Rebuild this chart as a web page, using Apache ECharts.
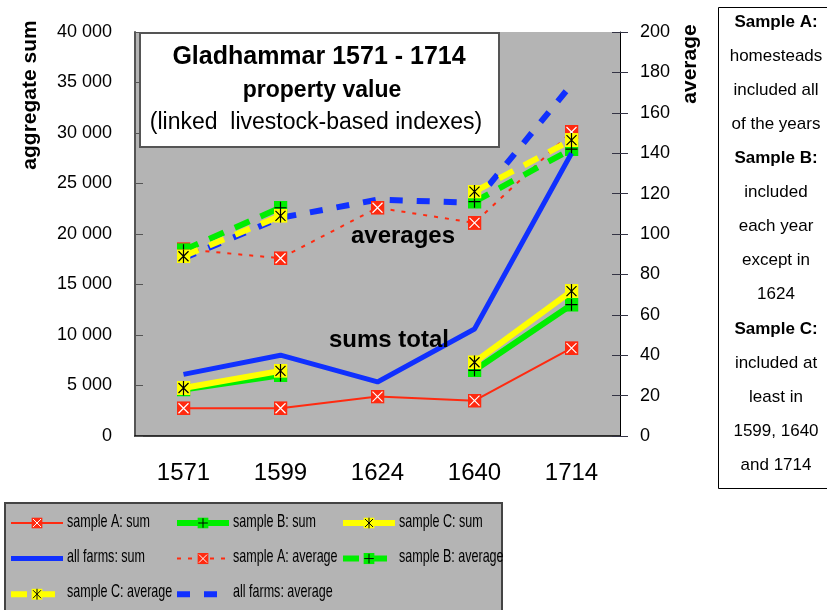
<!DOCTYPE html>
<html>
<head>
<meta charset="utf-8">
<script src="https://cdn.jsdelivr.net/npm/echarts@6/dist/echarts.min.js"></script>
<style>
  html, body { margin: 0; padding: 0; background: #fff; }
  #chart { width: 827px; height: 610px; }
</style>
</head>
<body>
<div id="chart"></div>
<script>
// data
var years = ["1571", "1599", "1624", "1640", "1714"];
var sumA = [2750, 2750, 3900, 3500, 8700];
var sumB = [4600, 6000, null, 6500, 13000];
var sumC = [4750, 6450, null, 7300, 14350];
var sumAll = [6100, 8000, 5350, 10600, 28000];
var avgA = [92.5, 88, 113, 105.5, 150.5];
var avgB = [92, 113, null, 116, 142];
var avgC = [89, 109, null, 121, 146.5];
var avgAll = [88, 108, 117, 115.5, 174];
var sideNotes = [
  ["Sample A:", true], ["homesteads", false], ["included all", false], ["of the years", false],
  ["Sample B:", true], ["included", false], ["each year", false], ["except in", false], ["1624", false],
  ["Sample C:", true], ["included at", false], ["least in", false], ["1599, 1640", false], ["and 1714", false]
];
// legend columns (read top to bottom)
var legendCols = [
  ["sample A: sum", "all farms: sum", "sample C: average"],
  ["sample B: sum", "sample A: average", "all farms: average"],
  ["sample C: sum", "sample B: average"]
];

var RED = "#ff2a10", GREEN = "#00ee00", YELLOW = "#ffff00", BLUE = "#1030ff";
var FONT = "'Liberation Sans', Arial, sans-serif";

function svgIcon(fill, stroke, path) {
  var s = "<svg xmlns='http://www.w3.org/2000/svg' width='14' height='14'>" +
    "<rect width='14' height='14' fill='" + fill + "'/>" +
    "<path d='" + path + "' stroke='" + stroke + "' stroke-width='1.2' fill='none'/></svg>";
  return "image://data:image/svg+xml;charset=utf-8," + encodeURIComponent(s);
}
var markA = svgIcon(RED, "#ffffff", "M2 2L12 12M12 2L2 12");
var markB = svgIcon(GREEN, "#000000", "M7 1V13M1 7H13");
var markC = svgIcon(YELLOW, "#000000", "M2 2L12 12M12 2L2 12M7 0V14");

var myChart = echarts.init(document.getElementById("chart"));

var lineWidths = {};
function lineSeries(name, data, yIdx, color, width, type, symbol, z) {
  lineWidths[name] = width;
  return {
    name: name,
    type: "line",
    yAxisIndex: yIdx,
    data: data,
    z: z,
    symbol: symbol || "none",
    symbolSize: [14, 14],
    showSymbol: !!symbol,
    connectNulls: false,
    animation: false,
    lineStyle: { color: color, width: width, type: type || "solid", cap: "butt" },
    itemStyle: { color: color }
  };
}

var series = [
  lineSeries("all farms: average", avgAll, 1, BLUE, 6, [13, 14], null, 2),
  lineSeries("sample A: average", avgA, 1, RED, 2, [4, 7], markA, 3),
  lineSeries("sample B: average", avgB, 1, GREEN, 6, [16, 12], markB, 4),
  lineSeries("sample C: average", avgC, 1, YELLOW, 6, [16, 12], markC, 5),
  lineSeries("all farms: sum", sumAll, 0, BLUE, 5, "solid", null, 6),
  lineSeries("sample A: sum", sumA, 0, RED, 2, "solid", markA, 7),
  lineSeries("sample B: sum", sumB, 0, GREEN, 6, "solid", markB, 8),
  lineSeries("sample C: sum", sumC, 0, YELLOW, 6, "solid", markC, 9)
];

var colLeft = [8, 174, 340];
var rowTop = 522, rowStep = 35;

function legendCol(i) {
  return {
    orient: "vertical",
    left: colLeft[i],
    top: rowTop - 6,
    padding: 0,
    itemGap: rowStep - 12,
    itemWidth: 52,
    itemHeight: 14,
    selectedMode: false,
    formatter: function () { return ""; },
    textStyle: { fontSize: 10 },
    data: legendCols[i].map(function (n) {
      var item = { name: n, lineStyle: { width: lineWidths[n] } };
      // plain lines have no marker in the key
      if (n.indexOf("all farms") === 0) item.itemStyle = { opacity: 0 };
      return item;
    })
  };
}

var graphics = [
  // title box
  { type: "rect", z: 50, shape: { x: 140, y: 33, width: 359, height: 114 },
    style: { fill: "#fff", stroke: "#555", lineWidth: 2 } },
  { type: "text", z: 51, x: 319, y: 57, style: { text: "Gladhammar 1571 - 1714", font: "bold 25px " + FONT, fill: "#000", align: "center", verticalAlign: "middle" } },
  { type: "text", z: 51, x: 322, y: 91, style: { text: "property value", font: "bold 23px " + FONT, fill: "#000", align: "center", verticalAlign: "middle" } },
  { type: "text", z: 51, x: 316, y: 123, style: { text: "(linked  livestock-based indexes)", font: "23px " + FONT, fill: "#000", align: "center", verticalAlign: "middle" } },
  // labels inside plot
  { type: "text", z: 51, x: 403, y: 236, style: { text: "averages", font: "bold 24px " + FONT, fill: "#000", align: "center", verticalAlign: "middle" } },
  { type: "text", z: 51, x: 389, y: 340, style: { text: "sums total", font: "bold 24px " + FONT, fill: "#000", align: "center", verticalAlign: "middle" } },
  // axis names
  { type: "text", z: 51, x: 30, y: 95, rotation: Math.PI / 2, style: { text: "aggregate sum", font: "bold 21px " + FONT, fill: "#000", align: "center", verticalAlign: "middle" } },
  { type: "text", z: 51, x: 690, y: 64, rotation: Math.PI / 2, style: { text: "average", font: "bold 21px " + FONT, fill: "#000", align: "center", verticalAlign: "middle" } },
  // side notes box
  { type: "rect", z: 50, shape: { x: 718.5, y: 7.5, width: 130, height: 481 },
    style: { fill: "#fff", stroke: "#000", lineWidth: 1 } },
  // legend box
  { type: "rect", z: -1, shape: { x: 5, y: 503, width: 497, height: 112 },
    style: { fill: "#b4b4b4", stroke: "#444", lineWidth: 2 } }
];
sideNotes.forEach(function (n, i) {
  graphics.push({ type: "text", z: 51, x: 776, y: 22 + i * 34.1,
    style: { text: n[0], font: (n[1] ? "bold " : "") + "17px " + FONT, fill: "#000", align: "center", verticalAlign: "middle" } });
});
// legend labels, condensed like the original
legendCols.forEach(function (col, i) {
  col.forEach(function (name, j) {
    graphics.push({ type: "text", z: 51, x: colLeft[i] + 59, y: rowTop + j * rowStep, scaleX: 0.66,
      style: { text: name, font: "19px " + FONT, fill: "#000", align: "left", verticalAlign: "middle" } });
  });
});

var option = {
  backgroundColor: "#fff",
  animation: false,
  grid: {
    left: 135, right: 207, top: 32, bottom: 174,
    show: true, backgroundColor: "#b4b4b4", borderWidth: 0
  },
  legend: [legendCol(0), legendCol(1), legendCol(2)],
  xAxis: [
    {
      type: "category",
      data: years,
      axisLine: { lineStyle: { color: "#000", width: 1.5 } },
      axisTick: { length: 8, lineStyle: { color: "#333" } },
      axisLabel: { color: "#000", fontFamily: FONT, fontSize: 24, margin: 25 }
    },
    {
      type: "category",
      data: years,
      position: "bottom",
      axisLine: { show: false },
      axisTick: { inside: true, length: 8, lineStyle: { color: "#333" } },
      axisLabel: { show: false }
    }
  ],
  yAxis: [
    {
      type: "value",
      position: "left",
      min: 0, max: 40000, interval: 5000,
      axisLine: { show: true, lineStyle: { color: "#555", width: 2 } },
      axisTick: { show: true, inside: true, length: 8, lineStyle: { color: "#555" } },
      splitLine: { show: false },
      axisLabel: {
        color: "#000", fontFamily: FONT, fontSize: 18, margin: 23,
        formatter: function (v) { return v >= 1000 ? Math.floor(v / 1000) + " 000" : String(v); }
      }
    },
    {
      type: "value",
      position: "right",
      min: 0, max: 200, interval: 20,
      axisLine: { show: true, lineStyle: { color: "#000", width: 1 } },
      axisTick: { show: true, length: 8, lineStyle: { color: "#334" } },
      splitLine: { show: false },
      axisLabel: { color: "#000", fontFamily: FONT, fontSize: 18, margin: 20 }
    },
    {
      type: "value",
      position: "right",
      min: 0, max: 200, interval: 20,
      axisLine: { show: false },
      axisTick: { show: true, inside: true, length: 8, lineStyle: { color: "#334" } },
      splitLine: { show: false },
      axisLabel: { show: false }
    }
  ],
  series: series,
  graphic: graphics
};

option && myChart.setOption(option);
</script>
</body>
</html>
